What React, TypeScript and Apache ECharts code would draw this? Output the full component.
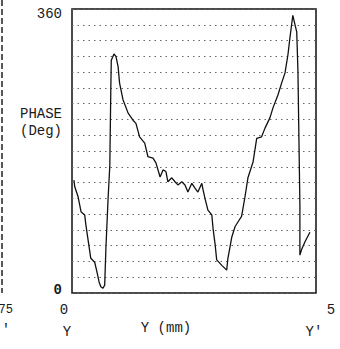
import React, { useEffect, useRef } from "react";
import * as echarts from "echarts";

// Position along the scan Y -> Y' (percent of span) and measured phase (deg)
const positions: number[] = [
  0.8, 1.1, 2.5, 3.7, 5.2, 5.7, 6.8, 7.7, 9.3, 10.2, 11.1, 11.8, 12.7, 13.4, 13.9, 14.8, 15.5, 15.9, 16.1,
  17.2, 18.0, 18.9, 19.5, 20.9, 23.0, 25.0, 26.2, 27.7, 29.8, 31.1, 33.2, 34.4, 36.1, 37.3, 38.5, 39.3,
  40.9, 42.2, 43.4, 45.0, 46.3, 47.5, 49.1, 50.4, 51.6, 53.2, 53.7, 54.5, 55.7, 57.3, 57.8, 58.6, 59.3,
  61.4, 63.4, 63.9, 65.5, 66.8, 68.0, 69.5, 70.9, 72.1, 74.2, 75.7, 77.7, 79.1, 81.1, 82.4, 84.4, 85.9,
  87.3, 88.5, 89.3, 90.0, 90.5, 91.4, 92.1, 92.6, 93.0, 93.4, 93.4, 94.1, 95.5, 97.5,
];
const phases: number[] = [
  143, 135, 122, 103, 99, 86, 63, 44, 39, 27, 14, 8, 6, 10, 57, 120, 162, 257, 295,
  303, 300, 287, 266, 245, 228, 219, 215, 198, 190, 173, 171, 165, 147, 156, 154, 141,
  146, 141, 137, 141, 137, 128, 139, 133, 128, 139, 131, 120, 105, 99, 82, 63, 42,
  35, 29, 44, 71, 84, 90, 97, 122, 146, 166, 196, 198, 209, 222, 235, 251, 266,
  279, 302, 323, 340, 352, 340, 331, 281, 196, 112, 48, 55, 65, 77,
];
const yTickLabels: string[] = ["0", "360"];
const xEndLabels: string[] = ["0", "5"];
const yAxisTitle: string[] = ["PHASE", "(Deg)"];
const xAxisTitle = "Y (mm)";
const scanEnds: string[] = ["Y", "Y'"];
const neighbourLabels: string[] = ["75", "'"];

const FONT = "Liberation Mono";

export default function App() {
  const ref = useRef<HTMLDivElement>(null);
  useEffect(() => {
    if (!ref.current) return;
    const chart = echarts.init(ref.current, null, { renderer: "svg" });
    const data = positions.map((p, i) => [p, phases[i]]);
    const txt = (x: number, y: number, text: string, align: string = "center", size = 14) => ({
      type: "text",
      x,
      y,
      z: 10,
      style: {
        text,
        fill: "#1a1a1a",
        font: `${size}px "${FONT}"`,
        align,
        verticalAlign: "middle",
      },
    });
    chart.setOption({
      animation: false,
      backgroundColor: "#ffffff",
      grid: {
        left: 72,
        top: 9,
        right: 24,
        bottom: 56,
        show: true,
        borderColor: "#111",
        borderWidth: 1.5,
        backgroundColor: "transparent",
      },
      xAxis: {
        type: "value",
        min: 0,
        max: 100,
        axisLine: { show: false },
        axisTick: { show: false },
        axisLabel: { show: false },
        splitLine: { show: false },
      },
      yAxis: {
        type: "value",
        min: 0,
        max: 360,
        interval: 20,
        axisLine: { show: false },
        axisTick: { show: false },
        splitLine: {
          show: true,
          lineStyle: { color: "#666", width: 1, type: [1.5, 4] },
        },
        axisLabel: {
          margin: 10,
          fontFamily: FONT,
          fontSize: 14,
          color: "#1a1a1a",
          showMinLabel: true,
          showMaxLabel: true,
          formatter: (v: number) =>
            v === 0 ? `{lo|${yTickLabels[0]}}` : v === 360 ? `{hi|${yTickLabels[1]}}` : "",
          rich: {
            lo: { fontFamily: FONT, fontSize: 14, fontWeight: "bold", padding: [0, 0, 6, 0] },
            hi: { fontFamily: FONT, fontSize: 14, padding: [10, 0, 0, 0] },
          },
        },
      },
      series: [
        {
          type: "line",
          data,
          showSymbol: false,
          symbol: "none",
          lineStyle: { color: "#111", width: 1.3 },
        },
      ],
      graphic: [
        txt(62, 114, yAxisTitle[0], "right"),
        txt(62, 131, yAxisTitle[1], "right"),
        txt(64, 310, xEndLabels[0]),
        txt(331, 310, xEndLabels[1]),
        txt(67, 332, scanEnds[0]),
        txt(166, 328, xAxisTitle),
        txt(314, 332, scanEnds[1]),
        txt(13, 310, neighbourLabels[0], "right", 12),
        txt(6, 330, neighbourLabels[1]),
        {
          type: "line",
          z: 10,
          shape: { x1: 2, y1: 0, x2: 2, y2: 293 },
          style: { stroke: "#222", lineWidth: 1.5, lineDash: [6, 3] },
        },
      ],
    });
    return () => chart.dispose();
  }, []);
  return (
    <div
      ref={ref}
      style={{ position: "absolute", left: 0, top: 0, width: 340, height: 349 }}
    />
  );
}
